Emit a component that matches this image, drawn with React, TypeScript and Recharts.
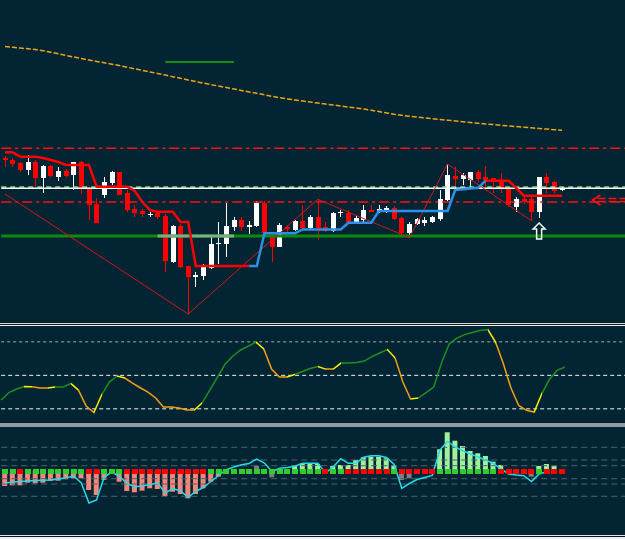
import React from "react";
import {
  ComposedChart,
  Bar,
  Line,
  Scatter,
  XAxis,
  YAxis,
  ReferenceLine,
  Cell,
} from "recharts";

// chart is an MT4-style screen: price panel, oscillator panel, histogram panel
const BG = "#032533";
const SLOTS = 82; // 74 bars + empty shift area on the right

// price in points (panel bottom = 0)
const opens = [
  164.7, 163, 159.7, 153, 161.3, 144.7, 157, 145.7, 152, 147.7,
  160.7, 135.3, 119, 128, 139.7, 150.7, 129.7, 114, 112, 108.5,
  109.7, 107, 61.3, 97, 57, 46.3, 47, 54.7, 79.7, 79,
  95.7, 103, 95.7, 97, 120.3, 86.3, 76.3, 95.7, 93, 102,
  94.7, 106.3, 95.7, 92.3, 109.7, 110.3, 101.3, 103, 113, 111.3,
  112, 114.7, 104.7, 89.7, 99, 99.7, 101.3, 103.7, 123, 147,
  143.7, 143, 151.3, 145.7, 144.7, 141.3, 134.7, 116.3, 123.7, 123.7,
  111.3, 146.3, 140.7, 133,
];
const highs = [
  167, 164.7, 161.3, 168, 163, 158, 158.3, 156.3, 153.7, 161.3,
  162, 136.3, 124.7, 146.3, 152, 151.3, 133, 118, 113.7, 111.3,
  111, 109, 98, 99, 57, 51.3, 59, 86.3, 101.3, 120.3,
  105.7, 105.7, 102.3, 122.3, 121.7, 88, 100.3, 98, 103, 118,
  108, 123.7, 101.3, 111.3, 113, 113, 108, 118, 118, 117.7,
  117, 117, 106, 101.3, 104.7, 105.7, 107, 133, 159, 156.3,
  150.3, 150.7, 153, 157, 144.7, 149.7, 134.7, 126.3, 127, 128,
  146.3, 149.7, 142.3, 136.3,
];
const lows = [
  156.3, 156.3, 151.3, 148, 136.3, 130.3, 146, 142, 146.3, 133,
  128.7, 103, 100, 125.3, 138, 128, 111, 106.3, 106.3, 105.7,
  104, 51.3, 60.3, 55, 9, 36.3, 43, 53.7, 59, 65.7,
  92.3, 92.3, 89, 95.7, 89.3, 61.3, 75.7, 91.3, 92.3, 93.7,
  93.7, 83, 91.3, 91.3, 105.7, 100.3, 99.7, 101.3, 111.3, 110.3,
  110.3, 103, 86.3, 85.3, 98, 97, 99.7, 102.3, 122.3, 133,
  138, 134.7, 141.3, 133.7, 130.3, 129.7, 116.3, 111.3, 119, 102.3,
  104.7, 129.7, 129.7, 132.3,
];
const closes = [
  163, 159, 153, 161.3, 144.7, 157, 147, 152, 147.3, 160.7,
  133.7, 118, 100.3, 141, 151.3, 128, 113, 110.3, 108.7, 109,
  106.3, 62.3, 97, 55.7, 46.3, 48.3, 56.3, 79, 79.9, 97,
  103, 95.7, 98, 120.3, 89.7, 76.3, 98, 93.7, 102, 94.7,
  106.3, 94.7, 92.3, 109.7, 111, 101.3, 104.7, 113, 111.3, 113.7,
  114.7, 103.7, 89.7, 99, 103.7, 103, 105.7, 123.7, 148, 143.7,
  148, 150.7, 143.7, 143, 141.3, 133.7, 118, 123.7, 121.3, 111.3,
  146.3, 140.3, 132.3, 134.7,
];

const slowMa = [
  276.5, 275.7, 275, 274.2, 273.4, 272.3, 270.8, 269.2, 267.6, 266,
  264.5, 263, 261.6, 260.2, 258.8, 257.4, 255.8, 254.2, 252.7, 251.1,
  249.5, 248, 246.3, 244.7, 243, 241.4, 239.9, 238.4, 236.9, 235.5,
  234, 232.5, 231.1, 229.7, 228.2, 226.7, 225.2, 224.1, 223.1, 222,
  221, 219.9, 218.9, 218, 217, 216, 215.1, 214, 212.7, 211.4,
  210.1, 208.8, 207.7, 206.8, 206, 205.2, 204.3, 203.6, 202.8, 202,
  201.3, 200.5, 199.7, 199, 198.4, 197.7, 197.1, 196.4, 195.8, 195.2,
  194.5, 193.9, 193.3, 192.7,
];

const _ = null;
const stopDown = [
  170.7, 170.7, 166.3, 166.3, 166.3, 165, 163, 161, 158, 158,
  158, 158, 136.3, 136.3, 136.3, 136.3, 136.3, 132, 121, 113,
  111.3, 111.3, 111.3, 101, 101, 57, 57, 57, 57, 57,
  57, 57, 57, _, _, _, _, _, _, _,
  _, _, _, _, _, _, _, _, _, _,
  _, _, _, _, _, _, _, _, _, _,
  _, _, _, 142.3, 142.3, 142.3, 142.3, 135, 127.3, 127.3,
  127.3, 127.3, 127.3, 127.3,
];
const stopUp = [
  _, _, _, _, _, _, _, _, _, _,
  _, _, _, _, _, _, _, _, _, _,
  _, _, _, _, _, _, _, _, _, _,
  _, _, 57, 57, 89.7, 89.7, 89.7, 89.7, 89.7, 93.5,
  93.5, 93.5, 93.5, 93.5, 93.5, 100.3, 100.3, 100.3, 100.3, 112,
  112, 112, 112, 112, 112, 112, 112, 112, 112, 133,
  133.7, 134.5, 135.3, 142.3, _, _, _, _, _, _,
  _, _, _, _,
];

const zigzagPivots: [number, number][] = [
  [0, 129], [24, 9], [41, 123.7], [53, 85.3], [58, 159], [69, 102.3],
];
const flagBars = [21, 22, 23, 24, 25, 26, 27, 28, 29, 30];
const flagLevel = 261;
const supportBars = [20, 21, 22, 23, 24, 25, 26, 27, 28, 29, 30];
const signalArrowBar = 70;
const signalArrowLevel = 92;
const targetArrowBar = 77;
const targetArrowLevel = 123;

const levels = {
  upperBand: 174.7,
  lowerBand: 121,
  pivot: 134.7,
  pivotShadow: 136,
  support: 87,
};

// oscillator (0..100 style)
const osc = [
  27.9, 34.6, 37.7, 40, 39.7, 38.6, 38.6, 39.5, 39.5, 42.7,
  36.8, 22.5, 16.7, 32.4, 44, 49.4, 47.6, 43.1, 38.9, 35,
  29.7, 21.6, 21.6, 20.7, 18.9, 18.9, 25.2, 36.8, 48.5, 60.1,
  67.3, 72.7, 76.2, 79.8, 73.6, 55.6, 48.5, 48.5, 50.7, 53.4,
  56.1, 57.9, 55.6, 55.6, 61, 61, 61.5, 62.8, 66.8, 70,
  73.1, 65.5, 44, 28.8, 29.7, 34.6, 39.5, 61, 78, 83.4,
  86.5, 88.3, 90.1, 91, 79.8, 60.6, 38.6, 23, 18.7, 17.1,
  33.7, 46.7, 54.7, 57.4,
];
const oscLevels = [80, 50, 20];

// histogram panel
const hist = [
  -15.2, -14.5, -14.5, -11.9, -12.5, -11.9, -9.9, -9.9, -8.5, -7.5,
  -7.5, -19.2, -24.2, -9.2, -3.2, -10.9, -20.2, -21.5, -19.9, -17.5,
  -18.2, -25.2, -20.9, -23.2, -27.5, -23.2, -17.5, -10.9, -5.9, _,
  _, _, _, _, _, _, _, _, 5.8, 7.3,
  7.8, 6.8, _, 4.8, 5.8, 5.8, 10.8, 13.5, 14.1, 14.1,
  12.5, 5.8, _, _, _, _, _, 21.5, 38.5, 30.1,
  24.8, 19.8, 17.5, 14.8, 9.1, 5.8, _, _, _, _,
  4.8, 6.8, 4.8, _,
];
const histFlat: [number, number][] = [
  [33, 5.1], [35, -6.5], [52, -9.2], [53, -7.5], [69, -5.9],
];
const signalLine = [
  -12.2, -11.2, -10.7, -10.2, -9.8, -9.5, -9.2, -8.2, -7, -5.2,
  -12.2, -32.2, -29.2, -6.2, -1.2, -5.7, -12.7, -15.9, -15.2, -13.7,
  -12.2, -22.2, -17.7, -20.2, -26.5, -20.5, -16.7, -10.7, -4.7, 1.2,
  3.8, 6.1, 7.3, 11.8, 7.8, -0.7, 2.5, 3.3, 4.5, 7.5,
  7.5, 7.5, -2.2, 3.8, 12.1, 7.5, 7.5, 13.5, 15.1, 15.1,
  13.3, 6.3, -17.5, -12.7, -8.7, -6.7, -4.7, 20.8, 29.3, 23.8,
  20, 16.8, 13.8, 10.8, 7.3, 1.8, -3.2, -4.2, -4.9, -10.7,
  -3.2, -0.9, _, _,
];
const trendState = [
  1, 1, -1, 1, 1, 1, 1, 1, 1, 1,
  1, -1, -1, 1, 1, 1, -1, -1, -1, -1,
  -1, -1, -1, -1, -1, -1, -1, 1, 1, 1,
  1, 1, 1, 1, 1, 1, 1, 1, 1, 1,
  1, 1, -1, 1, 1, -1, -1, -1, -1, -1,
  -1, 1, -1, -1, -1, -1, -1, 1, 1, 1,
  1, 1, 1, 1, 1, -1, -1, -1, -1, -1,
  1, -1, -1, -1,
];
const histLevels = [23.5, 10.8, 5.1, -7.9, -13.2, -25.5];

const pick = (list: [number, number][], i: number) => {
  const hit = list.find((p) => p[0] === i);
  return hit ? hit[1] : null;
};

const priceRows = Array.from({ length: SLOTS }, (_, i) => {
  const has = i < opens.length;
  return {
    i,
    range: has ? [lows[i], highs[i]] : null,
    open: has ? opens[i] : null,
    high: has ? highs[i] : null,
    low: has ? lows[i] : null,
    close: has ? closes[i] : null,
    ma: has ? slowMa[i] : null,
    down: has ? stopDown[i] : null,
    up: has ? stopUp[i] : null,
    zz: pick(zigzagPivots, i),
    flag: flagBars.includes(i) ? flagLevel : null,
    sup: supportBars.includes(i) ? levels.support : null,
    arrowUp: i === signalArrowBar ? signalArrowLevel : null,
    arrowLeft: i === targetArrowBar ? targetArrowLevel : null,
  };
});

const oscRows = Array.from({ length: SLOTS }, (_, i) => ({
  i,
  osc: i < osc.length ? osc[i] : null,
}));

const histRows = Array.from({ length: SLOTS }, (_, i) => ({
  i,
  hist: i < hist.length ? hist[i] : null,
  flat: pick(histFlat, i),
  sig: i < signalLine.length ? signalLine[i] : null,
  sq: i < trendState.length ? 0 : null,
  state: trendState[i] ?? 0,
}));

// colour each oscillator segment: rising green, falling orange, first after a turn yellow
const segColors: string[] = [];
{
  let prev = 0;
  for (let k = 0; k < osc.length - 1; k++) {
    const d = Math.sign(osc[k + 1] - osc[k]) || prev || 1;
    const turn = k > 0 && prev !== 0 && d !== prev;
    segColors.push(turn ? "#f5f000" : d > 0 ? "#1d8f1d" : "#f0a010");
    prev = d;
  }
}

function CandleShape(props: any) {
  const { x, y, width, height, payload } = props;
  if (!payload || payload.open == null) return <g />;
  const { open, close, high, low } = payload;
  const k = high > low ? height / (high - low) : 0;
  const py = (v: number) => y + (high - v) * k;
  const cx = Math.round(x + width / 2);
  const bull = close >= open;
  const top = py(Math.max(open, close));
  const bot = py(Math.min(open, close));
  const color = bull ? "#ffffff" : "#ff0000";
  return (
    <g shapeRendering="crispEdges">
      <line x1={cx + 0.5} x2={cx + 0.5} y1={y} y2={y + height} stroke={color} strokeWidth={1} />
      <rect x={cx - 2} y={top} width={5} height={Math.max(bot - top, 1)} fill={color} />
    </g>
  );
}

function UpArrow(props: any) {
  const { cx, cy, payload } = props;
  if (!payload || payload.arrowUp == null) return <g />;
  const d = `M${cx},${cy - 8} L${cx + 6},${cy - 2} L${cx + 2.5},${cy - 2} L${cx + 2.5},${cy + 8} L${cx - 2.5},${cy + 8} L${cx - 2.5},${cy - 2} L${cx - 6},${cy - 2} Z`;
  return <path d={d} fill="none" stroke="#f4fff0" strokeWidth={1.5} />;
}

function LeftArrow(props: any) {
  const { cx, cy, payload } = props;
  if (!payload || payload.arrowLeft == null) return <g />;
  return (
    <g stroke="#ff1010" fill="none" strokeWidth={1.6}>
      <path d={`M${cx + 8},${cy - 5} L${cx},${cy} L${cx + 8},${cy + 5}`} />
      <line x1={cx + 5} x2={cx + 34} y1={cy - 1.5} y2={cy - 1.5} strokeDasharray="8 3" />
      <line x1={cx + 5} x2={cx + 34} y1={cy + 1.5} y2={cy + 1.5} strokeDasharray="8 3" />
    </g>
  );
}

function StateSquare(props: any) {
  const { cx, cy, payload } = props;
  if (!payload || payload.sq == null) return <g />;
  const fill = payload.state > 0 ? "#30cc30" : "#ff0000";
  return (
    <rect
      x={Math.round(cx) - 3}
      y={Math.round(cy) - 2}
      width={6}
      height={5}
      fill={fill}
      shapeRendering="crispEdges"
    />
  );
}

const margin = { top: 0, right: 0.14, bottom: 0, left: 1.2 };
const W = 627;

const line = (y: number, h: number, color: string) => (
  <div style={{ position: "absolute", left: 0, top: y, width: 625, height: h, background: color }} />
);

export default function App() {
  return (
    <div
      style={{
        position: "absolute",
        left: 0,
        top: 0,
        width: 625,
        height: 539,
        background: BG,
        overflow: "hidden",
      }}
    >
      <svg width={0} height={0} style={{ position: "absolute" }}>
        <defs>
          <linearGradient id="oscGrad" x1="0" y1="0" x2="1" y2="0">
            {segColors.flatMap((c, k) => [
              <stop key={`a${k}`} offset={k / (osc.length - 1)} stopColor={c} />,
              <stop key={`b${k}`} offset={(k + 1) / (osc.length - 1)} stopColor={c} />,
            ])}
          </linearGradient>
        </defs>
      </svg>

      {/* price panel */}
      <div style={{ position: "absolute", left: 0, top: 0 }}>
        <ComposedChart width={W} height={323} data={priceRows} margin={margin}>
          <XAxis dataKey="i" hide />
          <YAxis hide domain={[0, 323]} allowDataOverflow />
          <ReferenceLine y={levels.support} stroke="#0a8c0a" strokeWidth={3} />
          <ReferenceLine y={levels.pivotShadow} stroke="#86d886" strokeWidth={1.5} strokeDasharray="5 4" />
          <ReferenceLine y={levels.pivot} stroke="#ffffff" strokeWidth={1.5} />
          <ReferenceLine y={levels.upperBand} stroke="#ff1010" strokeWidth={1.5} strokeDasharray="10 4 3 4" />
          <ReferenceLine y={levels.lowerBand} stroke="#ff1010" strokeWidth={1.5} strokeDasharray="10 4 3 4" />
          <Line dataKey="sup" stroke="#7fae86" strokeWidth={3} dot={false} isAnimationActive={false} />
          <Line dataKey="ma" stroke="#e9a515" strokeWidth={1.5} strokeDasharray="5 2" dot={false} isAnimationActive={false} />
          <Line dataKey="flag" stroke="#1a8c1a" strokeWidth={2} dot={false} isAnimationActive={false} />
          <Line dataKey="zz" type="linear" connectNulls stroke="#d01818" strokeWidth={1} dot={false} isAnimationActive={false} />
          <Bar dataKey="range" barSize={5} shape={<CandleShape />} isAnimationActive={false} />
          <Line dataKey="down" type="linear" stroke="#ff0000" strokeWidth={2.5} dot={false} isAnimationActive={false} />
          <Line dataKey="up" type="linear" stroke="#2f8fe6" strokeWidth={2.5} dot={false} isAnimationActive={false} />
          <Scatter dataKey="arrowUp" shape={<UpArrow />} isAnimationActive={false} />
          <Scatter dataKey="arrowLeft" shape={<LeftArrow />} isAnimationActive={false} />
        </ComposedChart>
      </div>

      {line(322, 1, "#0b1820")}
      {line(323, 1, "#d8dde0")}
      {line(324, 1, "#0b1820")}
      {line(325, 1, "#f0f0f0")}

      {/* oscillator panel */}
      <div style={{ position: "absolute", left: 0, top: 326 }}>
        <ComposedChart width={W} height={96} data={oscRows} margin={margin}>
          <XAxis dataKey="i" hide />
          <YAxis hide domain={[8.2, 94.2]} allowDataOverflow />
          {oscLevels.map((v, k) => (
            <ReferenceLine
              key={v}
              y={v}
              stroke={k === 0 ? "#a4adb2" : "#f4f4f4"}
              strokeWidth={1}
              strokeDasharray={k === 0 ? "3 3" : "4 3"}
            />
          ))}
          <Line dataKey="osc" type="linear" stroke="url(#oscGrad)" strokeWidth={1.5} dot={false} isAnimationActive={false} />
        </ComposedChart>
      </div>

      {line(422, 1, "#0b1820")}
      {line(423, 4, "#8e9ca4")}

      {/* histogram panel */}
      <div style={{ position: "absolute", left: 0, top: 427 }}>
        <ComposedChart width={W} height={108} data={histRows} margin={margin}>
          <XAxis dataKey="i" hide />
          <YAxis hide domain={[-64.2, 43.8]} allowDataOverflow />
          {histLevels.map((v) => (
            <ReferenceLine key={v} y={v} stroke="#4a636d" strokeWidth={1} strokeDasharray="6 4" />
          ))}
          <Bar dataKey="hist" stackId="h" barSize={5} isAnimationActive={false}>
            {histRows.map((r) => (
              <Cell key={r.i} fill={(r.hist ?? 0) >= 0 ? "#9ef29e" : "#f4857b"} />
            ))}
          </Bar>
          <Bar dataKey="flat" stackId="h" barSize={5} fill="#7c7f82" isAnimationActive={false} />
          <Scatter dataKey="sq" shape={<StateSquare />} isAnimationActive={false} />
          <Line dataKey="sig" type="linear" stroke="#22dcec" strokeWidth={1.5} dot={false} isAnimationActive={false} />
        </ComposedChart>
      </div>

      {line(535, 1, "#e8e8e8")}
      {line(536, 1, "#0b1820")}
      {line(537, 2, "#f0f0f0")}
    </div>
  );
}
